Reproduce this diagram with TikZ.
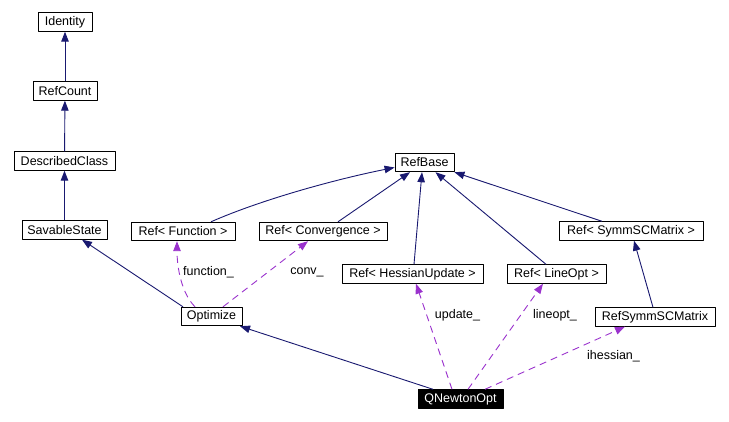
\documentclass[tikz,border=0pt]{standalone}
\usepackage{fontspec}
\setmainfont{Liberation Sans}
\usetikzlibrary{arrows.meta}
\definecolor{inhcol}{HTML}{191970}
\definecolor{usecol}{HTML}{9A32CD}
\begin{document}
\begin{tikzpicture}[x=1pt,y=-1pt,>={Triangle[length=10pt,width=7.5pt]}, font=\fontsize{12.5}{14}\selectfont, line join=round,
	cls/.style={draw,fill=white,line width=0.9pt,inner sep=0pt,minimum height=18.5pt},
	inh/.style={->,color=inhcol,line width=0.9pt},
	use/.style={->,color=usecol,line width=0.9pt,dash pattern=on 7pt off 5pt},
	lbl/.style={inner sep=0pt}]
	\useasboundingbox (0,0) rectangle (729,422);
	% classes
	\node[cls,minimum width=54pt] (id) at (65,22) {Identity};
	\node[cls,minimum width=64pt] (rc) at (65,91) {RefCount};
	\node[cls,minimum width=101pt] (dc) at (64.5,161) {DescribedClass};
	\node[cls,minimum width=85pt] (ss) at (64.5,230) {SavableState};
	\node[cls,minimum width=104pt] (rfun) at (183,231.5) {Ref< Function >};
	\node[cls,minimum width=128pt] (rconv) at (323,231.5) {Ref< Convergence >};
	\node[cls,minimum width=59pt] (rb) at (424.5,162.5) {RefBase};
	\node[cls,minimum width=141pt] (rhess) at (412.5,274) {Ref< HessianUpdate >};
	\node[cls,minimum width=61pt] (opt) at (211.5,316.5) {Optimize};
	\node[cls,minimum width=99pt] (rline) at (556.5,274) {Ref< LineOpt >};
	\node[cls,minimum width=144pt] (rsym) at (631,231) {Ref< SymmSCMatrix >};
	\node[cls,minimum width=120pt] (rsm) at (655,317) {RefSymmSCMatrix};
	\node[cls,minimum width=85pt,fill=black,text=white] (qn) at (460.5,399) {QNewtonOpt};
	% inheritance
	\draw[inh] (rc) -- (id);
	\draw[inh] (dc) -- (rc);
	\draw[inh] (ss) -- (dc);
	\draw[inh] ([xshift=-28.5]opt.north) -- ([xshift=17.5]ss.south);
	\draw[inh] ([xshift=-27.5]qn.north) -- ([xshift=28.5]opt.south);
	\draw[inh] ([xshift=28]rfun.north) .. controls +(50,-22) and +(-60,12) .. ([yshift=-5]rb.west);
	\draw[inh] ([xshift=15]rconv.north) -- ([xshift=-14.5]rb.south);
	\draw[inh] ([xshift=1.5]rhess.north) -- ([xshift=-2.5]rb.south);
	\draw[inh] ([xshift=-10.5]rline.north) -- ([xshift=11]rb.south);
	\draw[inh] ([xshift=-29]rsym.north) -- (rb.south east);
	\draw[inh] ([xshift=-2]rsm.north) -- ([xshift=3]rsym.south);
	% members
	\draw[use] ([xshift=-16.5]opt.north) .. controls +(-14,-14) and +(0,25) .. ([xshift=-6]rfun.south);
	\draw[use] ([xshift=11.5]opt.north) -- ([xshift=-15]rconv.south);
	\draw[use] ([xshift=-8.5]qn.north) -- ([xshift=3.5]rhess.south);
	\draw[use] ([xshift=7.5]qn.north) -- ([xshift=-13.5]rline.south);
	\draw[use] ([xshift=24.5]qn.north) -- ([xshift=-30]rsm.south);
	\node[lbl] (lfun) at (208.5,272) {function\_};
	\node[lbl] (lconv) at (307,272) {conv\_};
	\node[lbl] (lupd) at (457.5,315) {update\_};
	\node[lbl] (lline) at (555,315) {lineopt\_};
	\node[lbl] (lihess) at (613.5,356.5) {ihessian\_};
\end{tikzpicture}
\end{document}
